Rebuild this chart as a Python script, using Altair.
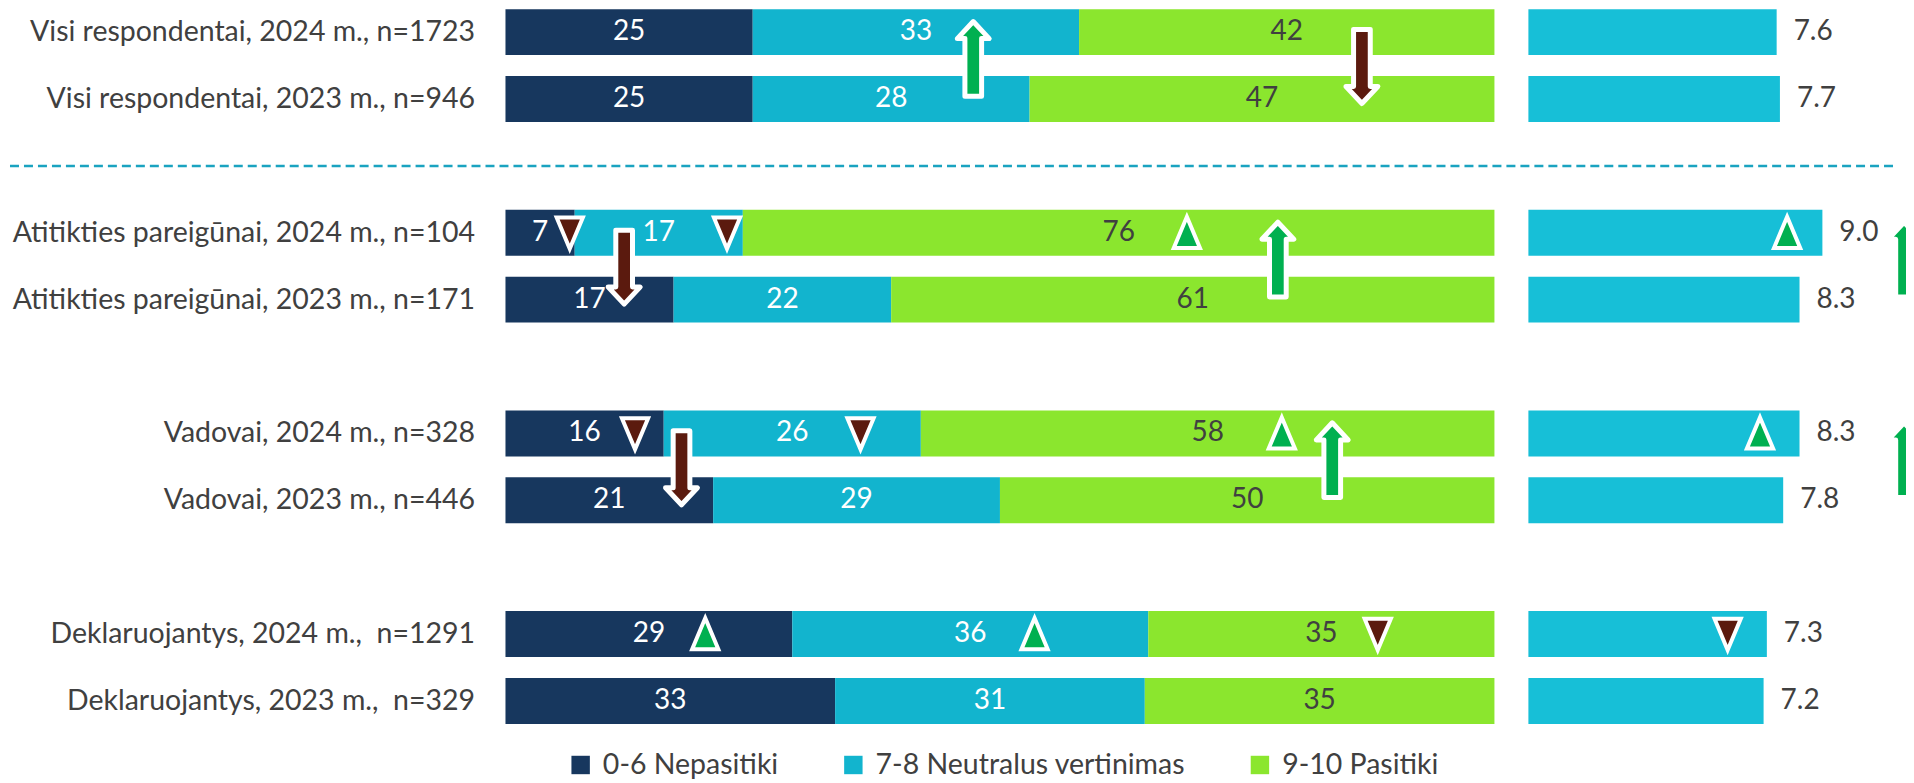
import altair as alt
import pandas as pd

# ---------------- data ----------------
rows = [
    "Visi respondentai, 2024 m., n=1723",
    "Visi respondentai, 2023 m., n=946",
    "Atitikties pareigūnai, 2024 m., n=104",
    "Atitikties pareigūnai, 2023 m., n=171",
    "Vadovai, 2024 m., n=328",
    "Vadovai, 2023 m., n=446",
    "Deklaruojantys, 2024 m.,\u00a0 n=1291",
    "Deklaruojantys, 2023 m.,\u00a0 n=329",
]
categories = ["0-6 Nepasitiki", "7-8 Neutralus vertinimas", "9-10 Pasitiki"]
neg = [25, 25, 7, 17, 16, 21, 29, 33]
neu = [33, 28, 17, 22, 26, 29, 36, 31]
pos = [42, 47, 76, 61, 58, 50, 35, 35]
mean = [7.6, 7.7, 9.0, 8.3, 8.3, 7.8, 7.3, 7.2]

# significance markers (2024 vs 2023) inside the bars, x in percent
tri_row = [2, 2, 2, 4, 4, 4, 6, 6, 6]
tri_pct = [6.5, 22.4, 68.9, 13.1, 35.9, 78.5, 20.2, 53.5, 88.2]
tri_dir = ["down", "down", "up", "down", "down", "up", "up", "up", "down"]
# markers on the mean bars
mtri_row = [2, 4, 6]
mtri_val = [7.92, 7.09, 6.1]
mtri_dir = ["up", "up", "down"]
# change arrows between the two years of a group
arr_group = [0, 0, 1, 1, 2, 2]
arr_pct = [47.3, 86.6, 12.0, 78.1, 17.8, 83.6]
arr_dir = ["up", "down", "down", "up", "down", "up"]
marr_group = [1, 2]
marr_val = [11.5, 11.5]
marr_dir = ["up", "up"]

# ---------------- styles ----------------
FONT = "Lato"
FS = 28.5     # row labels and legend
FSN = 28      # numbers
TXT = "#404040"
COLORS = ["#17375E", "#12B4CE", "#8BE62E"]
MEAN_COLOR = "#17BFD7"
GREEN = "#00B050"
RED = "#5B1A0E"

UP_TRI = "M0,-1L0.82,0.95L-0.82,0.95Z"
DOWN_TRI = "M0,1L0.82,-0.95L-0.82,-0.95Z"
UP_ARR = "M0,-1.16L0.42,-0.71L0.22,-0.71L0.22,0.81L-0.22,0.81L-0.22,-0.71L-0.42,-0.71Z"
DOWN_ARR = "M0,1.0L0.42,0.55L0.22,0.55L0.22,-0.95L-0.22,-0.95L-0.22,0.55L-0.42,0.55Z"

# y domain: rows with spacer slots between
domain = []
for g in range(4):
    if g > 0:
        domain += [f"_gap{g}a", f"_gap{g}b", f"_gap{g}c"]
    domain += [rows[2 * g], f"_mid{g}", rows[2 * g + 1]]

yscale = alt.Scale(domain=domain, paddingInner=0, paddingOuter=0)
yaxis = alt.Axis(
    title=None, ticks=False, domain=False, grid=False,
    labelFont=FONT, labelFontSize=FS, labelColor=TXT, labelPadding=31,
    minExtent=496, maxExtent=496, labelLimit=1000,
    labelExpr="indexof(datum.label, '_') == 0 ? '' : datum.label",
)

shape_scale = alt.Scale(domain=["tri_up", "tri_down", "arr_up", "arr_down"],
                        range=[UP_TRI, DOWN_TRI, UP_ARR, DOWN_ARR])
fill_scale = alt.Scale(domain=["tri_up", "tri_down", "arr_up", "arr_down"],
                       range=[GREEN, RED, GREEN, RED])

long = pd.DataFrame([
    {"row": rows[i], "cat": categories[j], "ci": j, "value": v}
    for i in range(len(rows))
    for j, v in enumerate([neg[i], neu[i], pos[i]])
])
means = pd.DataFrame({"row": rows, "mean": mean})
tri = pd.DataFrame({"row": [rows[i] for i in tri_row],
                    "x": [p / 100 for p in tri_pct],
                    "kind": ["tri_" + d for d in tri_dir]})
mtri = pd.DataFrame({"row": [rows[i] for i in mtri_row],
                     "x": mtri_val,
                     "kind": ["tri_" + d for d in mtri_dir]})
arr = pd.DataFrame({"row": [f"_mid{g}" for g in arr_group],
                    "x": [p / 100 for p in arr_pct],
                    "kind": ["arr_" + d for d in arr_dir]})
marr = pd.DataFrame({"row": [f"_mid{g}" for g in marr_group],
                     "x": marr_val,
                     "kind": ["arr_" + d for d in marr_dir]})
sep = pd.DataFrame({"row": ["_gap1b"]})

Y = alt.Y("row:N", scale=yscale, axis=yaxis)
Yr = alt.Y("row:N", scale=yscale, axis=None)
xl = alt.Scale(domain=[0, 1])
# mean panel: 0-10 scale over 327 px, panel continues to the page edge
xr = alt.Scale(domain=[0, 378 / 32.7])

stacked = alt.Chart(long).transform_stack(
    stack="value", groupby=["row"], as_=["x0", "x1"], offset="normalize",
    sort=[alt.SortField("ci", order="ascending")],
).transform_calculate(mid="(datum.x0 + datum.x1) / 2")

NB = "\u00a0" * 12
bars = stacked.mark_bar(size=46).encode(
    y=Y,
    x=alt.X("x0:Q", scale=xl, axis=None),
    x2="x1:Q",
    color=alt.Color("cat:N", scale=alt.Scale(domain=categories, range=COLORS),
                    legend=alt.Legend(
                        title=None, orient="none", legendX=61, legendY=736,
                        direction="horizontal", symbolType="square",
                        symbolSize=340, symbolStrokeWidth=0, labelFont=FONT,
                        labelFontSize=FS, labelColor=TXT, labelOffset=8,
                        columnPadding=60, padding=0, labelLimit=1000,
                        labelExpr=f"datum.label == '7-8 Neutralus vertinimas' ? datum.label + '{NB}' : datum.label")),
)
seg_text = stacked.mark_text(font=FONT, fontSize=FSN, baseline="middle").encode(
    y=Y,
    x=alt.X("mid:Q", scale=xl, axis=None),
    text=alt.Text("value:Q"),
    color=alt.condition(alt.datum.ci == 2, alt.value(TXT), alt.value("white")),
)
tri_l = alt.Chart(tri).mark_point(filled=True, size=1024, stroke="white",
                                  strokeWidth=4, opacity=1).encode(
    y=Y, x=alt.X("x:Q", scale=xl, axis=None),
    shape=alt.Shape("kind:N", scale=shape_scale, legend=None),
    fill=alt.Fill("kind:N", scale=fill_scale, legend=None),
)
arr_l = alt.Chart(arr).mark_point(filled=True, size=5776, stroke="white",
                                  strokeWidth=5, strokeJoin="round",
                                  opacity=1).encode(
    y=Y, x=alt.X("x:Q", scale=xl, axis=None),
    shape=alt.Shape("kind:N", scale=shape_scale, legend=None),
    fill=alt.Fill("kind:N", scale=fill_scale, legend=None),
)
sep_l = alt.Chart(sep).mark_rule(color="#1AA3C0", strokeWidth=2.5,
                                 strokeDash=[9, 5]).encode(
    y=Y, x=alt.value(-496), x2=alt.value(1394),
)
left = alt.layer(bars, seg_text, sep_l, arr_l, tri_l).properties(width=990, height=703)

mbars = alt.Chart(means).mark_bar(size=46, color=MEAN_COLOR).encode(
    y=Yr, x=alt.X("mean:Q", scale=xr, axis=None),
)
mtext = alt.Chart(means).mark_text(font=FONT, fontSize=FSN, align="left", dx=17,
                                   color=TXT, baseline="middle").encode(
    y=Yr, x=alt.X("mean:Q", scale=xr, axis=None),
    text=alt.Text("mean:Q", format=".1f"),
)
tri_r = alt.Chart(mtri).mark_point(filled=True, size=1024, stroke="white",
                                   strokeWidth=4, opacity=1).encode(
    y=Yr, x=alt.X("x:Q", scale=xr, axis=None),
    shape=alt.Shape("kind:N", scale=shape_scale, legend=None),
    fill=alt.Fill("kind:N", scale=fill_scale, legend=None),
)
arr_r = alt.Chart(marr).mark_point(filled=True, size=5776, stroke="white",
                                   strokeWidth=5, strokeJoin="round",
                                   opacity=1, clip=True).encode(
    y=Yr, x=alt.X("x:Q", scale=xr, axis=None),
    shape=alt.Shape("kind:N", scale=shape_scale, legend=None),
    fill=alt.Fill("kind:N", scale=fill_scale, legend=None),
)
right = alt.layer(mbars, mtext, arr_r, tri_r).properties(width=378, height=703)

chart = alt.hconcat(left, right, spacing=34, bounds="flush").properties(
    padding={"left": 0, "top": 0, "right": 0, "bottom": 0}
).configure_view(stroke=None)

chart.save("out.html", embed_options={"renderer": "svg", "actions": False})
